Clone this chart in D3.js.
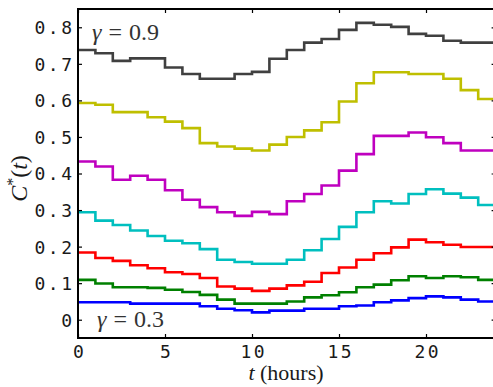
<!DOCTYPE html>
<html>
<head>
<meta charset="utf-8">
<script src="https://cdn.jsdelivr.net/npm/d3@7"></script>
<style>
  body { margin: 0; background: #fff; }
  svg { display: block; }
  .tick text { font-family: "DejaVu Sans Mono", monospace; font-size: 18px; fill: #1a1a1a; letter-spacing: 2.5px; }
  .lbl { font-family: "Liberation Serif", "Times New Roman", serif; fill: #1a1a1a; }
</style>
</head>
<body>
<div id="chart"></div>
<script>
// hourly values of C*(t), one array per gamma
var hours = d3.range(0, 24);
var gamma09 = [0.738, 0.729, 0.708, 0.715, 0.715, 0.690, 0.672, 0.659, 0.659, 0.672, 0.678, 0.714,
               0.738, 0.758, 0.768, 0.793, 0.812, 0.807, 0.801, 0.782, 0.777, 0.763, 0.758, 0.758];
var gamma08 = [0.593, 0.588, 0.568, 0.568, 0.554, 0.542, 0.524, 0.483, 0.474, 0.468, 0.463, 0.479,
               0.500, 0.518, 0.540, 0.597, 0.647, 0.677, 0.677, 0.672, 0.672, 0.659, 0.628, 0.604];
var gamma07 = [0.433, 0.419, 0.383, 0.394, 0.383, 0.354, 0.328, 0.308, 0.294, 0.284, 0.295, 0.289,
               0.324, 0.344, 0.367, 0.408, 0.453, 0.503, 0.503, 0.512, 0.499, 0.483, 0.463, 0.463];
var gamma06 = [0.294, 0.271, 0.259, 0.244, 0.229, 0.216, 0.209, 0.193, 0.164, 0.158, 0.153, 0.153,
               0.164, 0.190, 0.221, 0.254, 0.294, 0.324, 0.318, 0.344, 0.357, 0.345, 0.334, 0.314];
var gamma05 = [0.184, 0.169, 0.161, 0.149, 0.141, 0.130, 0.125, 0.114, 0.091, 0.085, 0.079, 0.085,
               0.094, 0.104, 0.128, 0.143, 0.164, 0.182, 0.198, 0.219, 0.212, 0.205, 0.199, 0.199];
var gamma04 = [0.109, 0.099, 0.089, 0.089, 0.087, 0.082, 0.076, 0.068, 0.055, 0.044, 0.044, 0.044,
               0.050, 0.061, 0.067, 0.075, 0.089, 0.096, 0.108, 0.119, 0.114, 0.119, 0.116, 0.109];
var gamma03 = [0.048, 0.048, 0.048, 0.044, 0.044, 0.044, 0.044, 0.037, 0.030, 0.026, 0.020, 0.025,
               0.025, 0.030, 0.030, 0.037, 0.039, 0.048, 0.053, 0.059, 0.064, 0.061, 0.055, 0.050];
var series = [gamma09, gamma08, gamma07, gamma06, gamma05, gamma04, gamma03];
var colors = ["#404040", "#bfbf00", "#bf00bf", "#00bfbf", "#ff0000", "#008000", "#0000ff"];
var xTicks = [0, 5, 10, 15, 20];
var yTicks = [0, 0.1, 0.2, 0.3, 0.4, 0.5, 0.6, 0.7, 0.8];

var W = 493, H = 387;
var margin = { top: 9, left: 78, bottom: 338 };
var x = d3.scaleLinear().domain([0, 24]).range([margin.left, 495.6]);
var y = d3.scaleLinear().domain([-0.05, 0.85]).range([margin.bottom, margin.top]);

var svg = d3.select("#chart").append("svg")
  .attr("width", W)
  .attr("height", H);

// step lines
var line = d3.line()
  .curve(d3.curveStepAfter)
  .x(function (d) { return x(d[0]); })
  .y(function (d) { return y(d[1]); });

series.forEach(function (vals, i) {
  var pts = hours.map(function (h) { return [h, vals[h]]; });
  pts.push([24, vals[23]]);
  svg.append("path")
    .datum(pts)
    .attr("d", line)
    .style("fill", "none")
    .style("stroke", colors[i])
    .style("stroke-width", 2.6);
});

// axes (ticks pointing inwards)
svg.append("g")
  .attr("class", "xAxis")
  .attr("transform", "translate(0," + margin.bottom + ")")
  .call(d3.axisBottom(x).tickValues(xTicks).tickSize(-4).tickPadding(20).tickFormat(d3.format("d")))
  .call(function (g) {
    g.select(".domain").remove();
    g.selectAll("text").attr("dx", "1.25px").attr("dy", "0");
  });

svg.append("g")
  .attr("class", "yAxis")
  .attr("transform", "translate(" + margin.left + ",0)")
  .call(d3.axisLeft(y).tickValues(yTicks).tickSize(-4).tickPadding(3)
    .tickFormat(function (d) { return d === 0 ? "0" : d3.format(".1f")(d); }))
  .call(function (g) {
    g.select(".domain").remove();
    g.selectAll("text").attr("dx", "-0.5px").attr("dy", "0.36em");
  });

svg.append("g")
  .attr("transform", "translate(0," + margin.top + ")")
  .call(d3.axisTop(x).tickValues(xTicks).tickSize(-4).tickFormat(""))
  .call(function (g) { g.select(".domain").remove(); });

svg.append("g")
  .attr("transform", "translate(" + x(24) + ",0)")
  .call(d3.axisRight(y).tickValues(yTicks).tickSize(-4).tickFormat(""))
  .call(function (g) { g.select(".domain").remove(); });

svg.selectAll(".tick line").style("stroke", "#000").style("stroke-width", 1.2);

// frame
svg.append("rect")
  .attr("x", x(0))
  .attr("y", y(0.85))
  .attr("width", x(24) - x(0))
  .attr("height", y(-0.05) - y(0.85))
  .style("fill", "none")
  .style("stroke", "#000")
  .style("stroke-width", 2);

// gamma labels
function gammaLabel(px, py, val) {
  var t = svg.append("text").attr("class", "lbl")
    .attr("x", px).attr("y", py)
    .style("font-size", "24px")
    .style("fill", "#333");
  t.append("tspan").style("font-style", "italic").text("γ");
  t.append("tspan").attr("dx", 7).text("=");
  t.append("tspan").attr("dx", 7).text(val);
}
gammaLabel(92, 40, "0.9");
gammaLabel(97, 327, "0.3");

// axis titles
var xl = svg.append("text").attr("class", "lbl")
  .attr("x", 286).attr("y", 380)
  .style("font-size", "22px")
  .style("text-anchor", "middle");
xl.append("tspan").style("font-style", "italic").text("t");
xl.append("tspan").text(" (hours)");

var yl = svg.append("text").attr("class", "lbl")
  .attr("transform", "translate(27," + ((margin.top + margin.bottom) / 2 + 5) + ") rotate(-90)")
  .style("font-size", "24px")
  .style("text-anchor", "middle");
yl.append("tspan").style("font-style", "italic").text("C");
yl.append("tspan").attr("dy", -9).style("font-size", "16px").text("*");
yl.append("tspan").attr("dy", 9).text("(");
yl.append("tspan").style("font-style", "italic").text("t");
yl.append("tspan").text(")");
</script>
</body>
</html>
